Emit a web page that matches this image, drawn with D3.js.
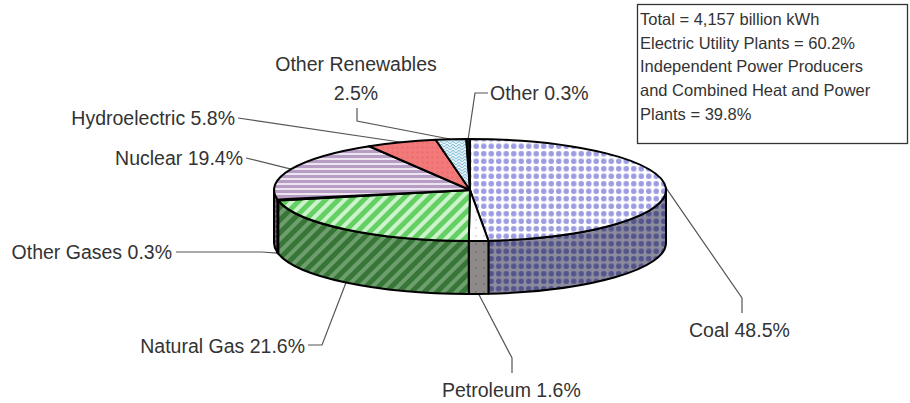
<!DOCTYPE html>
<html>
<head>
<meta charset="utf-8">
<script src="https://cdnjs.cloudflare.com/ajax/libs/d3/7.8.5/d3.min.js"></script>
<style>
  body { margin: 0; background: #fff; }
  text { font-family: Arial, "Liberation Sans", sans-serif; fill: #333; }
</style>
</head>
<body>
<script>
// net generation shares by source (percent)
var categories = ["Coal", "Petroleum", "Natural Gas", "Other Gases", "Nuclear", "Hydroelectric", "Other Renewables", "Other"];
var values = [48.5, 1.6, 21.6, 0.3, 19.4, 5.8, 2.5, 0.3];
var noteLines = [
    "Total = 4,157 billion kWh",
    "Electric Utility Plants = 60.2%",
    "Independent Power Producers",
    "and Combined Heat and Power",
    "Plants = 39.8%"
];

var width = 910, height = 403;
var cx = 470, cy = 190, rx = 196, ry = 51, depth = 53;

// label placement: text position + elbow points of the leader line
var labelLayout = {
    "Coal":             {x: 689, y: [337], anchor: "start", side: false, elbow: [[742, 298], [742, 313]]},
    "Petroleum":        {x: 442, y: [397], anchor: "start", side: true,  elbow: [[512, 358], [512, 373]]},
    "Natural Gas":      {x: 305, y: [353], anchor: "end",   side: true,  elbow: [[322, 345], [308, 345]]},
    "Other Gases":      {x: 172, y: [259], anchor: "end",   side: true,  elbow: [[262, 252], [176, 252]]},
    "Nuclear":          {x: 243, y: [165], anchor: "end",   side: false, elbow: [[246, 158]]},
    "Hydroelectric":    {x: 235, y: [125], anchor: "end",   side: false, elbow: [[238, 118]]},
    "Other Renewables": {x: 356, y: [71, 100], anchor: "middle", side: false, elbow: [[357, 121], [357, 108]]},
    "Other":            {x: 490, y: [100], anchor: "start", side: false, elbow: [[475, 93], [488, 93]]}
};

var svg = d3.select("body").append("svg")
    .attr("width", width)
    .attr("height", height);

var defs = svg.append("defs");

// fill patterns, one for the top and one for the side of each slice
function dotPattern(id, bg, fg, size, r, diamond) {
    var p = defs.append("pattern").attr("id", id)
        .attr("patternUnits", "userSpaceOnUse")
        .attr("width", size).attr("height", size);
    p.append("rect").attr("width", size).attr("height", size).attr("fill", bg);
    if (diamond) {
        var h = size / 2;
        p.append("path")
            .attr("d", "M" + h + "," + (h - r) + "L" + (h + r) + "," + h + "L" + h + "," + (h + r) + "L" + (h - r) + "," + h + "Z")
            .attr("fill", fg);
    } else {
        p.append("circle").attr("cx", size / 2).attr("cy", size / 2).attr("r", r).attr("fill", fg);
    }
}
function stripePattern(id, bg, fg, size, band, angle) {
    var p = defs.append("pattern").attr("id", id)
        .attr("patternUnits", "userSpaceOnUse")
        .attr("width", size).attr("height", size)
        .attr("patternTransform", "rotate(" + angle + ")");
    p.append("rect").attr("width", size).attr("height", size).attr("fill", bg);
    p.append("rect").attr("width", size).attr("height", band).attr("fill", fg);
}
function hatchPattern(id, bg, fg) {
    var p = defs.append("pattern").attr("id", id)
        .attr("patternUnits", "userSpaceOnUse")
        .attr("width", 6).attr("height", 6);
    p.append("rect").attr("width", 6).attr("height", 6).attr("fill", bg);
    p.append("path").attr("d", "M0,3L3,0L6,3M0,6L3,3L6,6")
        .attr("stroke", fg).attr("stroke-width", 1.1).attr("fill", "none");
}

dotPattern("coalTop", "#ffffff", "#9c9ce2", 7.5, 2.8, false);
dotPattern("coalSide", "#8c8c9e", "#54548c", 7.5, 2.8, false);
dotPattern("petroTop", "#ffffff", "#c9b0b0", 8, 0.8, false);
dotPattern("petroSide", "#8e8a8a", "#6a5e5e", 8, 0.8, false);
stripePattern("gasTop", "#cdf3cd", "#64d064", 9, 5, -45);
stripePattern("gasSide", "#6e9e6e", "#377637", 9, 5, -45);
stripePattern("nucTop", "#ece4ee", "#b79cc3", 5, 3, 0);
stripePattern("nucSide", "#7a6a80", "#5a4a60", 5, 3, 0);
dotPattern("hydroTop", "#f27a7a", "#ee6e6e", 5, 1.2, false);
dotPattern("hydroSide", "#a04848", "#903c3c", 5, 1.2, false);
hatchPattern("renTop", "#f4fafc", "#8ec6dc");
hatchPattern("renSide", "#7aa0ae", "#5a8090");

var topFill = d3.scaleOrdinal()
    .domain(categories)
    .range(["url(#coalTop)", "url(#petroTop)", "url(#gasTop)", "#111111", "url(#nucTop)", "url(#hydroTop)", "url(#renTop)", "#111111"]);
var sideFill = d3.scaleOrdinal()
    .domain(categories)
    .range(["url(#coalSide)", "url(#petroSide)", "url(#gasSide)", "#000000", "url(#nucSide)", "url(#hydroSide)", "url(#renSide)", "#000000"]);

var pie = d3.pie().sort(null).value(function(d) { return d.value; });
var slices = pie(categories.map(function(c, i) { return {name: c, value: values[i]}; }));

function pt(a, dy) {
    return [cx + rx * Math.sin(a), cy - ry * Math.cos(a) + (dy || 0)];
}
function topPath(d) {
    var large = (d.endAngle - d.startAngle) > Math.PI ? 1 : 0;
    return "M" + cx + "," + cy + "L" + pt(d.startAngle) +
        "A" + rx + "," + ry + " 0 " + large + " 1 " + pt(d.endAngle) + "Z";
}
function sidePath(d) {
    var s0 = Math.max(d.startAngle, Math.PI / 2), s1 = Math.min(d.endAngle, Math.PI * 1.5);
    if (s1 <= s0) return null;
    return "M" + pt(s0) + "A" + rx + "," + ry + " 0 0 1 " + pt(s1) +
        "L" + pt(s1, depth) + "A" + rx + "," + ry + " 0 0 0 " + pt(s0, depth) + "Z";
}

// leader lines (drawn first so the pie covers their ends)
var leader = d3.line();
svg.append("g").selectAll("path")
    .data(slices)
    .enter()
    .append("path")
    .attr("d", function(d) {
        var lay = labelLayout[d.data.name];
        var mid = (d.startAngle + d.endAngle) / 2;
        return leader([pt(mid, lay.side ? depth : 0)].concat(lay.elbow));
    })
    .attr("fill", "none")
    .attr("stroke", "#555")
    .attr("stroke-width", 1.2);

svg.append("g").selectAll("path")
    .data(slices.filter(function(d) { return sidePath(d) !== null; }))
    .enter()
    .append("path")
    .attr("d", sidePath)
    .attr("fill", function(d) { return sideFill(d.data.name); })
    .attr("stroke", "#000")
    .attr("stroke-width", 2)
    .attr("stroke-linejoin", "round");

svg.append("g").selectAll("path")
    .data(slices)
    .enter()
    .append("path")
    .attr("d", topPath)
    .attr("fill", function(d) { return topFill(d.data.name); })
    .attr("stroke", "#000")
    .attr("stroke-width", 2)
    .attr("stroke-linejoin", "round");

// slice labels
var labels = svg.append("g").selectAll("text")
    .data(slices)
    .enter()
    .append("text")
    .attr("font-size", "19.5px")
    .attr("text-anchor", function(d) { return labelLayout[d.data.name].anchor; });
labels.each(function(d) {
    var lay = labelLayout[d.data.name];
    var pct = d.data.value.toFixed(1) + "%";
    var lines = lay.y.length > 1 ? [d.data.name, pct] : [d.data.name + " " + pct];
    d3.select(this).selectAll("tspan")
        .data(lines)
        .enter()
        .append("tspan")
        .attr("x", lay.x)
        .attr("y", function(t, i) { return lay.y[i]; })
        .text(function(t) { return t; });
});

// note box
var note = svg.append("g");
note.append("rect")
    .attr("x", 637.5).attr("y", 4.5)
    .attr("width", 270).attr("height", 139)
    .attr("fill", "#fff")
    .attr("stroke", "#333")
    .attr("stroke-width", 1.3);
note.selectAll("text")
    .data(noteLines)
    .enter()
    .append("text")
    .attr("x", 640)
    .attr("y", function(d, i) { return 25 + i * 23.7; })
    .attr("font-size", "16.5px")
    .text(function(d) { return d; });
</script>
</body>
</html>
